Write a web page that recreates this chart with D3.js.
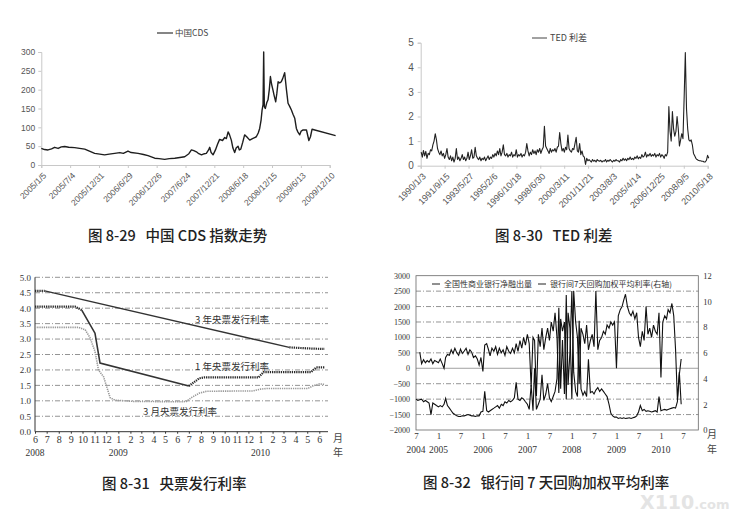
<!DOCTYPE html>
<html><head><meta charset="utf-8">
<script src="https://cdn.jsdelivr.net/npm/d3@7"></script>
<style>body{margin:0;background:#fff} svg{display:block}</style>
</head><body>
<svg id="c" width="730" height="512"></svg>
<script>
// ---------- Fig 8-29 : China CDS ----------
const cdsDates = ["2005-01-05","2005-01-25","2005-02-16","2005-03-10","2005-03-29","2005-04-20","2005-05-10","2005-05-31","2005-06-25","2005-08-01","2005-09-01","2005-10-03","2005-11-05","2005-12-04","2006-01-05","2006-02-04","2006-03-05","2006-04-08","2006-05-10","2006-06-01","2006-06-30","2006-07-20","2006-09-01","2006-10-05","2006-11-02","2006-12-14","2007-01-10","2007-02-14","2007-03-15","2007-04-18","2007-05-20","2007-06-19","2007-07-15","2007-07-31","2007-08-15","2007-08-31","2007-09-15","2007-10-02","2007-10-20","2007-11-01","2007-11-15","2007-11-22","2007-12-01","2007-12-13","2007-12-28","2008-01-10","2008-01-23","2008-02-10","2008-02-24","2008-03-05","2008-03-16","2008-03-25","2008-04-05","2008-04-15","2008-04-26","2008-05-05","2008-05-17","2008-05-25","2008-06-03","2008-06-15","2008-06-27","2008-07-10","2008-07-29","2008-08-15","2008-09-08","2008-09-20","2008-09-29","2008-10-08","2008-10-14","2008-10-20","2008-10-24","2008-10-28","2008-11-03","2008-11-12","2008-11-20","2008-11-28","2008-12-05","2008-12-12","2008-12-21","2008-12-28","2009-01-07","2009-01-14","2009-01-22","2009-02-01","2009-02-11","2009-02-20","2009-03-04","2009-03-15","2009-03-25","2009-04-05","2009-04-15","2009-04-25","2009-05-06","2009-05-16","2009-05-25","2009-06-06","2009-06-15","2009-06-27","2009-07-18","2009-08-02","2009-08-12","2009-08-22","2010-01-16"];
const cdsValues = [44,41,40,43,47,44,48,49,47,46,44,42,36,31,29,27,29,31,33,31,37,33,31,28,25,18,17,15,17,18,20,22,30,40,38,35,30,27,30,31,40,47,33,27,40,55,68,65,73,70,88,80,66,45,33,45,50,40,42,60,80,75,66,70,75,85,97,120,146,160,300,155,150,165,173,200,235,215,199,185,168,190,221,218,221,230,245,200,164,155,146,135,124,97,88,80,90,93,93,65,75,95,78];
const cdsTickLabels = ["2005/1/5","2005/7/4","2005/12/31","2006/6/29","2006/12/26","2007/6/24","2007/12/21","2008/6/18","2008/12/15","2009/6/13","2009/12/10"];
const cdsYTicks = [0,50,100,150,200,250,300];

// ---------- Fig 8-30 : TED spread (monthly, from 1990-01) ----------
const tedStartMonth = "1990-01";
const tedMonthly = [
0.55,0.35,0.62,0.40,0.58,0.30,0.50,0.45,0.65,0.60,0.85,1.00,
1.30,1.05,0.70,0.55,0.45,0.60,0.40,0.50,0.30,0.45,0.70,0.35,
0.25,0.40,0.20,0.35,0.15,0.30,0.70,0.25,0.35,0.20,0.30,0.45,
0.25,0.35,0.20,0.30,0.55,0.25,0.40,0.65,0.30,0.35,0.75,0.40,
0.30,0.25,0.35,0.20,0.30,0.25,0.35,0.20,0.30,0.40,0.25,0.35,
0.30,0.45,0.35,0.50,0.40,0.60,0.45,0.70,0.40,0.55,0.85,0.45,
0.40,0.50,0.35,0.45,0.40,0.55,0.35,0.45,0.40,0.65,0.35,0.45,
0.40,0.50,0.35,0.45,0.40,0.55,0.90,0.60,0.40,0.55,0.45,0.65,
0.50,0.60,0.45,0.65,0.55,0.70,0.50,0.65,0.75,1.60,0.80,0.70,
0.60,0.50,0.70,0.55,0.65,0.60,0.70,0.55,0.75,0.80,1.35,0.90,
0.60,0.70,0.55,0.75,0.65,1.25,0.70,0.60,0.55,0.70,0.65,0.90,
1.15,0.60,0.55,0.90,0.45,0.60,0.40,0.35,0.05,0.30,0.20,0.25,
0.20,0.15,0.25,0.18,0.22,0.15,0.25,0.20,0.18,0.22,0.15,0.20,
0.18,0.25,0.15,0.22,0.18,0.25,0.20,0.15,0.22,0.18,0.25,0.20,
0.20,0.15,0.25,0.20,0.30,0.22,0.28,0.20,0.30,0.25,0.35,0.25,
0.30,0.25,0.35,0.30,0.40,0.28,0.35,0.30,0.45,0.35,0.40,0.55,
0.35,0.45,0.40,0.50,0.38,0.45,0.40,0.50,0.35,0.45,0.40,0.50,
0.35,0.45,0.40,0.30,0.45,0.40,0.55,2.40,1.40,1.00,2.20,1.50,
1.20,1.40,2.00,1.50,0.80,1.05,1.30,1.10,2.80,4.60,2.30,1.50,
1.05,1.00,1.05,0.85,0.50,0.40,0.30,0.25,0.22,0.20,0.20,0.18,
0.18,0.15,0.15,0.22,0.42,0.30];
const tedTickLabels = ["1990/1/3","1991/9/15","1993/5/27","1995/2/6","1996/10/18","1998/6/30","2000/3/11","2001/11/21","2003/8/3","2005/4/14","2006/12/25","2008/9/5","2010/5/18"];
const tedYTicks = [0,1,2,3,4,5];

// ---------- Fig 8-31 : central bank bill rates ----------
const bill3yDates = ["2008-06-01","2008-06-26","2010-03-16","2010-04-15","2010-05-15","2010-06-15"];
const bill3yValues = [4.56,4.56,2.73,2.71,2.69,2.68];
const bill1yDates = ["2008-06-01","2008-09-12","2008-09-29","2008-11-02","2008-11-15","2009-07-01","2009-07-28","2009-08-10","2009-12-27","2010-01-09","2010-05-11","2010-05-24","2010-06-15"];
const bill1yValues = [4.05,4.05,3.94,3.19,2.22,1.48,1.73,1.76,1.76,1.93,1.93,2.08,2.08];
const bill3mDates = ["2008-06-01","2008-09-21","2008-10-08","2008-10-20","2008-11-02","2008-11-11","2008-11-24","2008-12-11","2008-12-24","2009-02-10","2009-06-12","2009-06-25","2009-07-07","2009-07-28","2009-08-16","2009-12-13","2010-01-01","2010-01-17","2010-05-02","2010-05-19","2010-06-02","2010-06-15"];
const bill3mValues = [3.38,3.38,3.30,3.05,2.60,2.00,1.78,1.10,1.02,0.98,0.97,0.98,1.10,1.25,1.31,1.32,1.38,1.40,1.40,1.50,1.55,1.53];
const billMonthLabels = ["6","7","8","9","10","11","12","1","2","3","4","5","6","7","8","9","10","11","12","1","2","3","4","5","6"];
const billYearLabels = ["2008","2009","2010"];
const billYearDates = ["2008-06-01","2009-01-01","2010-01-01"];
const billYTicks = [0,0.5,1,1.5,2,2.5,3,3.5,4,4.5,5];
const billSeriesNames = ["3 年央票发行利率","1 年央票发行利率","3 月央票发行利率"];

// ---------- Fig 8-32 : interbank 7-day repo ----------
const lendStart = "2004-08-01"; // half-monthly values
const lendHalfMonthly = [
520,150,280,180,250,200,300,150,250,220,
180,300,150,0,350,450,420,600,480,650,500,420,620,480,560,650,450,600,520,350,400,300,100,350,
-100,750,800,600,400,650,550,700,450,650,500,600,420,700,550,480,650,500,800,550,900,650,1000,750,
1100,800,-600,1000,900,-900,1100,700,1300,600,1000,1300,900,1500,1200,1800,1000,-800,1600,1200,1500,-1000,1800,1300,
-1000,2500,1500,1000,-500,1300,1100,800,1400,600,900,1100,700,2500,600,900,1000,1200,1100,1400,1300,1500,1400,1500,
0,1700,1900,2000,2200,2400,2000,1800,1700,1850,1600,1800,1000,700,1200,900,2000,1100,1300,1000,1400,1200,1100,1800,
-300,1500,1700,1600,1900,1800,2100,1700,600,-1000,-200,300];
const rateStart = "2004-07-01"; // half-monthly values, %
const rateHalfMonthly = [
2.40,2.30,2.35,2.40,2.20,2.30,2.20,2.10,1.20,2.10,2.00,1.90,
1.80,1.90,1.80,2.00,2.45,1.90,1.70,1.50,1.30,1.20,1.10,1.05,1.05,1.10,1.10,1.15,1.20,1.15,1.10,1.10,1.05,1.10,1.10,1.40,
1.45,3.00,1.50,1.40,1.50,1.60,1.70,1.80,1.90,1.70,2.00,1.90,2.20,2.10,2.30,2.20,2.30,2.50,3.70,2.40,2.30,2.50,2.40,2.20,
2.00,1.60,3.50,1.50,4.80,1.60,2.00,2.40,4.30,2.30,2.80,3.60,2.50,2.20,2.60,3.00,4.00,9.50,3.20,7.00,2.80,10.50,3.50,6.00,
10.80,4.50,3.00,2.60,8.50,3.20,2.70,3.00,2.60,5.50,2.90,3.00,2.80,3.10,3.30,3.00,3.20,3.00,2.80,2.60,2.00,1.30,1.10,1.00,
1.00,0.90,0.95,0.90,0.95,0.90,0.92,0.95,0.90,0.95,1.00,1.10,1.40,1.90,1.50,1.60,1.45,1.50,1.45,1.40,1.45,1.50,1.40,2.60,
1.50,1.55,1.60,1.55,1.60,1.65,1.70,1.75,1.70,2.20,4.50,2.00];
const repoMonthLabels = ["7","1","7","1","7","1","7","1","7","1","7","1","7"];
const repoYearLabels = ["2004","2005","2006","2007","2008","2009","2010"];
const repoYearDates = ["2004-07-01","2005-01-01","2006-01-01","2007-01-01","2008-01-01","2009-01-01","2010-01-01"];
const repoLeftTicks = [-2000,-1500,-1000,-500,0,500,1000,1500,2000,2500,3000];
const repoRightTicks = [0,2,4,6,8,10,12];
const repoSeriesNames = ["全国性商业银行净融出量","银行间7天回购加权平均利率(右轴)"];

const captions = ["图 8-29   中国 CDS 指数走势","图 8-30   TED 利差","图 8-31   央票发行利率","图 8-32   银行间 7 天回购加权平均利率"];

// ================= drawing =================
const svg = d3.select("#c");
svg.append("rect").attr("width",730).attr("height",512).attr("fill","#fff");
const pISO = d3.timeParse("%Y-%m-%d");
const pSlash = d3.timeParse("%Y/%m/%d");
const SANS = "'Liberation Sans', Arial, sans-serif";
const SERIF = "'Liberation Serif', 'Times New Roman', serif";
const CJK = "'Noto Sans CJK SC', sans-serif";

function styleAxis(sel, color, font, size, fill){
  sel.select(".domain").attr("stroke", color);
  sel.selectAll(".tick line").attr("stroke", color);
  sel.selectAll("text").attr("font-family", font).attr("font-size", size).attr("fill", fill);
}

// ---- Chart 1 ----
{
  const g = svg.append("g");
  const tickDates = cdsTickLabels.map(pSlash);
  const x = d3.scaleTime().domain([tickDates[0], tickDates[tickDates.length-1]]).range([41.3, 329.7]);
  const y = d3.scaleLinear().domain([0,300]).range([165,52]);
  const ya = g.append("g").attr("transform","translate(41.3,0)")
    .call(d3.axisLeft(y).tickValues(cdsYTicks).tickSize(3).tickPadding(3));
  styleAxis(ya, "#c8c8c8", SANS, 8.5, "#555");
  const xa = g.append("g").attr("transform","translate(0,165)")
    .call(d3.axisBottom(x).tickValues(tickDates).tickSize(3).tickFormat((d,i)=>cdsTickLabels[i]));
  styleAxis(xa, "#c8c8c8", SANS, 8.5, "#555");
  xa.selectAll("text").attr("x",0).attr("y",0).attr("dy","0.35em")
    .attr("text-anchor","end").attr("transform","translate(3,9) rotate(-45)");
  const data = cdsDates.map((d,i)=>({d:pISO(d), v:cdsValues[i]}));
  g.append("path").datum(data).attr("fill","none").attr("stroke","#1e1e1e").attr("stroke-width",1.4)
    .attr("stroke-linejoin","round")
    .attr("d", d3.line().x(d=>x(d.d)).y(d=>y(d.v)));
  g.append("line").attr("x1",157).attr("x2",173).attr("y1",33).attr("y2",33).attr("stroke","#333").attr("stroke-width",1.2);
  g.append("text").attr("x",175).attr("y",36).attr("font-family",CJK).attr("font-size",8.5).attr("fill","#444").text("中国CDS");
}

// ---- Chart 2 ----
{
  const g = svg.append("g");
  const tickDates = tedTickLabels.map(pSlash);
  const x = d3.scaleTime().domain([tickDates[0], tickDates[tickDates.length-1]]).range([420.7, 707.7]);
  const y = d3.scaleLinear().domain([0,5]).range([165.7,42.7]);
  const ya = g.append("g").attr("transform","translate(420.7,0)")
    .call(d3.axisLeft(y).tickValues(tedYTicks).tickSize(3).tickPadding(4).tickFormat(d3.format("d")));
  styleAxis(ya, "#c8c8c8", SANS, 10, "#555");
  const xa = g.append("g").attr("transform","translate(0,165.7)")
    .call(d3.axisBottom(x).tickValues(tickDates).tickSize(3).tickFormat((d,i)=>tedTickLabels[i]));
  styleAxis(xa, "#c8c8c8", SANS, 9, "#555");
  xa.selectAll("text").attr("x",0).attr("y",0).attr("dy","0.35em")
    .attr("text-anchor","end").attr("transform","translate(3,9) rotate(-45)");
  const start = d3.timeParse("%Y-%m")(tedStartMonth);
  const data = tedMonthly.map((v,i)=>({d:d3.timeDay.offset(d3.timeMonth.offset(start,i),14), v}));
  g.append("path").datum(data).attr("fill","none").attr("stroke","#222").attr("stroke-width",1.1)
    .attr("stroke-linejoin","round")
    .attr("d", d3.line().x(d=>x(d.d)).y(d=>y(d.v)));
  g.append("line").attr("x1",532).attr("x2",547).attr("y1",38).attr("y2",38).attr("stroke","#444").attr("stroke-width",1);
  g.append("text").attr("x",550).attr("y",41).attr("font-family",CJK).attr("font-size",9).attr("fill","#444").text("TED 利差");
}

// ---- Chart 3 ----
{
  const g = svg.append("g");
  const x = d3.scaleTime().domain([pISO("2008-06-01"), pISO("2010-06-01")]).range([35, 319.3]);
  const y = d3.scaleLinear().domain([0,5]).range([431.7,277.3]);
  g.selectAll(".grid").data(billYTicks.filter(v=>v>0)).join("line")
    .attr("x1",35).attr("x2",328).attr("y1",d=>y(d)).attr("y2",d=>y(d))
    .attr("stroke","#666").attr("stroke-width",0.7).attr("stroke-dasharray","5,2,1,2");
  const ya = g.append("g").attr("transform","translate(35,0)")
    .call(d3.axisLeft(y).tickValues(billYTicks).tickSize(0).tickPadding(4).tickFormat(d3.format(".1f")));
  styleAxis(ya, "#333", SERIF, 9, "#333");
  ya.select(".domain").attr("d","M0,277.3V431.7");
  const months = d3.timeMonth.range(pISO("2008-06-01"), pISO("2010-06-02"));
  const xa = g.append("g").attr("transform","translate(0,431.7)")
    .call(d3.axisBottom(x).tickValues(months).tickSize(2).tickPadding(2).tickFormat((d,i)=>billMonthLabels[i]));
  styleAxis(xa, "#333", SERIF, 10, "#333");
  xa.select(".domain").attr("d","M35,0H328");
  g.selectAll(".yr").data(billYearLabels).join("text")
    .attr("x",(d,i)=>x(pISO(billYearDates[i]))).attr("y",456).attr("text-anchor","middle")
    .attr("font-family",SERIF).attr("font-size",9.5).attr("fill","#333").text(d=>d);
  g.append("text").attr("x",333).attr("y",442).attr("font-family",CJK).attr("font-size",10).attr("fill","#444").text("月");
  g.append("text").attr("x",333).attr("y",456).attr("font-family",CJK).attr("font-size",10).attr("fill","#444").text("年");

  const line = d3.line().x(d=>x(d.d)).y(d=>y(d.v));
  function drawSeg(data, a, b, dotted, color, w){
    g.append("path").datum(data.slice(a,b+1)).attr("fill","none").attr("stroke",color)
      .attr("stroke-width",w).attr("stroke-dasharray",dotted?"1.3,0.9":null).attr("d",line);
  }
  const s3y = bill3yDates.map((d,i)=>({d:pISO(d), v:bill3yValues[i]}));
  const s1y = bill1yDates.map((d,i)=>({d:pISO(d), v:bill1yValues[i]}));
  const s3m = bill3mDates.map((d,i)=>({d:pISO(d), v:bill3mValues[i]}));
  drawSeg(s3m, 0, s3m.length-1, true, "#9a9a9a", 1.6);
  drawSeg(s3y, 0, 1, true, "#2a2a2a", 2.2);
  drawSeg(s3y, 1, 2, false, "#333", 1.4);
  drawSeg(s3y, 2, 5, true, "#2a2a2a", 2.2);
  drawSeg(s1y, 0, 2, true, "#2a2a2a", 2.2);
  drawSeg(s1y, 2, 5, false, "#333", 1.6);
  drawSeg(s1y, 5, 12, true, "#2a2a2a", 2.2);
  const lbl = [[195,323],[195,370],[143,415]];
  g.selectAll(".sl").data(billSeriesNames).join("text")
    .attr("x",(d,i)=>lbl[i][0]).attr("y",(d,i)=>lbl[i][1])
    .attr("font-family",CJK).attr("font-size",9.5).attr("fill","#333").text(d=>d);
}

// ---- Chart 4 ----
{
  const g = svg.append("g");
  const x = d3.scaleTime().domain([pISO("2004-07-01"), pISO("2010-07-01")]).range([416, 683]);
  const yL = d3.scaleLinear().domain([-2000,3000]).range([430,275.7]);
  const yR = d3.scaleLinear().domain([0,12]).range([430,275.7]);
  g.selectAll(".grid").data(repoLeftTicks.filter(v=>v!==0 && v!==3000 && v!==-2000)).join("line")
    .attr("x1",416).attr("x2",698.3).attr("y1",d=>yL(d)).attr("y2",d=>yL(d))
    .attr("stroke","#666").attr("stroke-width",0.7).attr("stroke-dasharray","5,2,1,2");
  g.append("line").attr("x1",416).attr("x2",698.3).attr("y1",yL(0)).attr("y2",yL(0)).attr("stroke","#888").attr("stroke-width",0.8);
  g.append("rect").attr("x",416).attr("y",275.7).attr("width",282.3).attr("height",154.3)
    .attr("fill","none").attr("stroke","#666").attr("stroke-width",0.8);
  const ya = g.append("g").attr("transform","translate(416,0)")
    .call(d3.axisLeft(yL).tickValues(repoLeftTicks).tickSize(0).tickPadding(6).tickFormat(d3.format("d")));
  styleAxis(ya, "none", SERIF, 8, "#333");
  const yr = g.append("g").attr("transform","translate(698.3,0)")
    .call(d3.axisRight(yR).tickValues(repoRightTicks).tickSize(0).tickPadding(5));
  styleAxis(yr, "none", SERIF, 8.5, "#333");
  const ticks = d3.timeMonth.every(6).range(pISO("2004-07-01"), pISO("2010-07-02"));
  const xa = g.append("g").attr("transform","translate(0,430)")
    .call(d3.axisBottom(x).tickValues(ticks).tickSize(0).tickPadding(3).tickFormat((d,i)=>repoMonthLabels[i]));
  styleAxis(xa, "none", SERIF, 9, "#333");
  g.selectAll(".yr").data(repoYearLabels).join("text")
    .attr("x",(d,i)=>x(pISO(repoYearDates[i]))).attr("y",453).attr("text-anchor","middle")
    .attr("font-family",SERIF).attr("font-size",9.5).attr("fill","#333").text(d=>d);
  g.append("text").attr("x",707).attr("y",438).attr("font-family",CJK).attr("font-size",10).attr("fill","#444").text("月");
  g.append("text").attr("x",707).attr("y",453).attr("font-family",CJK).attr("font-size",10).attr("fill","#444").text("年");

  const halfMonth = (start,i)=>d3.timeDay.offset(d3.timeMonth.offset(pISO(start), Math.floor(i/2)), (i%2)*15);
  const rate = rateHalfMonthly.map((v,i)=>({d:halfMonth(rateStart,i), v}));
  const lend = lendHalfMonthly.map((v,i)=>({d:halfMonth(lendStart,i), v}));
  g.append("path").datum(rate).attr("fill","none").attr("stroke","#111").attr("stroke-width",1.1)
    .attr("d", d3.line().x(d=>x(d.d)).y(d=>yR(d.v)));
  g.append("path").datum(lend).attr("fill","none").attr("stroke","#111").attr("stroke-width",1.1)
    .attr("d", d3.line().x(d=>x(d.d)).y(d=>yL(d.v)));
  // legend
  g.append("rect").attr("x",428).attr("y",278).attr("width",256).attr("height",12).attr("fill","#fff");
  const lx = [[432,444],[538,550]];
  repoSeriesNames.forEach((n,i)=>{
    g.append("line").attr("x1",lx[i][0]).attr("x2",lx[i][0]+8).attr("y1",284).attr("y2",284).attr("stroke","#222").attr("stroke-width",1);
    g.append("text").attr("x",lx[i][1]).attr("y",287).attr("font-family",CJK).attr("font-size",8).attr("fill","#333").text(n);
  });
}

// ---- captions ----
const capPos = [[88,241],[495,241],[102,489],[423,488]];
svg.selectAll(".cap").data(captions).join("text")
  .attr("x",(d,i)=>capPos[i][0]).attr("y",(d,i)=>capPos[i][1])
  .attr("font-family",CJK).attr("font-size",14.5).attr("font-weight",500).attr("fill","#222")
  .attr("xml:space","preserve").style("white-space","pre").text(d=>d);

// watermark (placed just below the caption)
const wm = svg.append("text").attr("x",640).attr("y",509).attr("font-family","'DejaVu Sans', sans-serif")
  .attr("font-weight","bold").attr("fill","#e4e4e4");
wm.append("tspan").attr("font-size",19).text("X110");
wm.append("tspan").attr("font-size",13).text(".com");
</script>
</body></html>
